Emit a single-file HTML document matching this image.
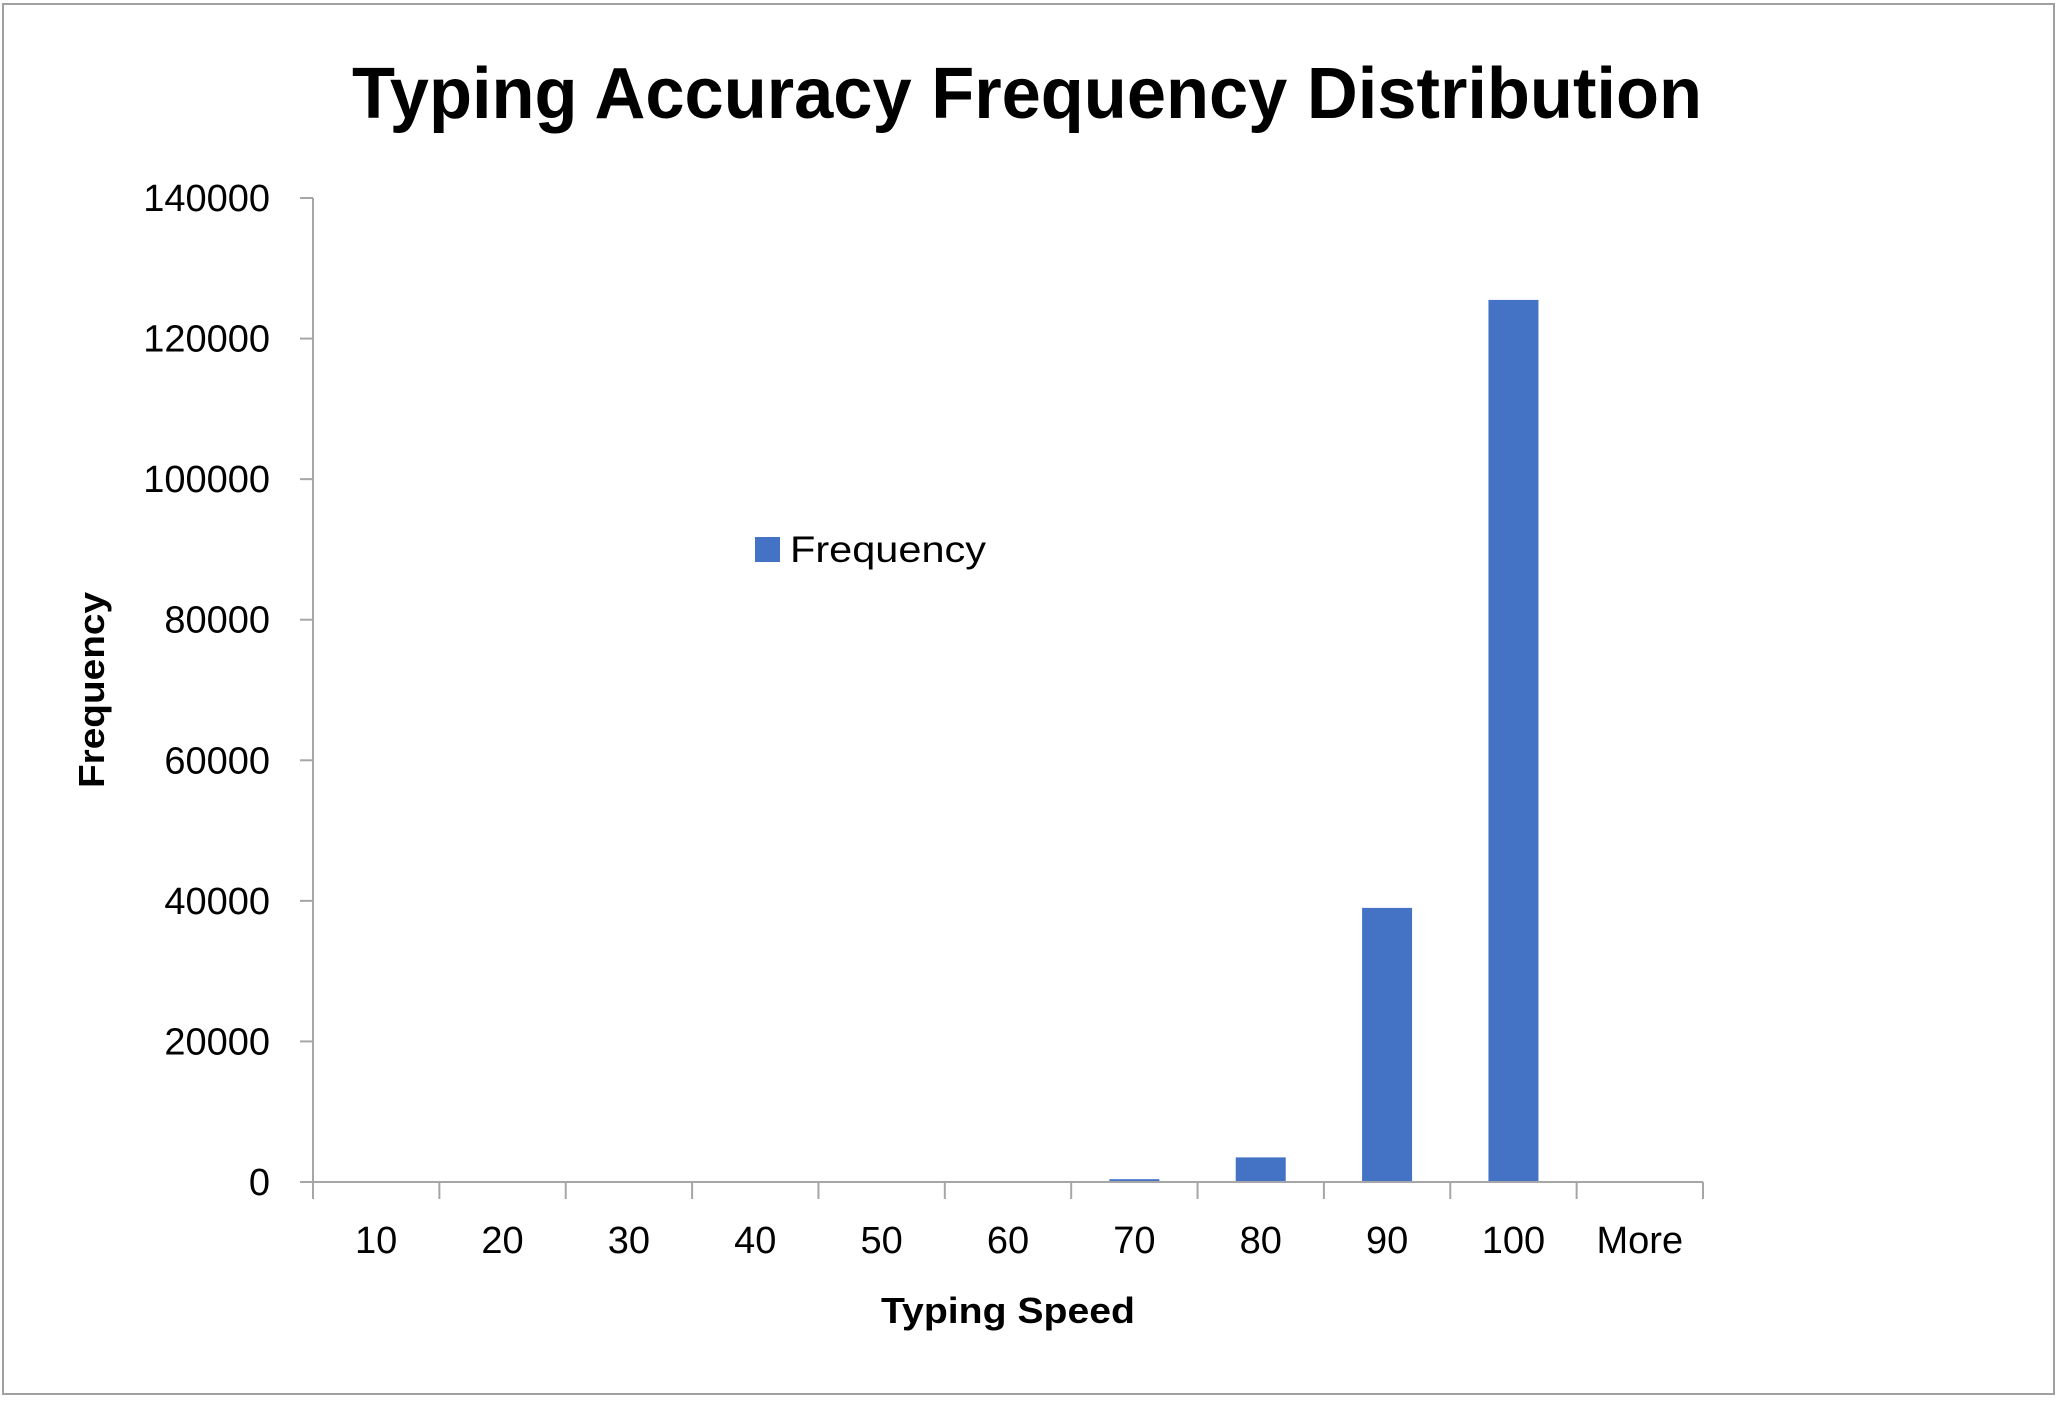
<!DOCTYPE html>
<html><head><meta charset="utf-8"><style>
html,body{margin:0;padding:0;background:#fff;}
svg{display:block;font-family:"Liberation Sans",sans-serif;}
</style></head><body>
<svg id="chart" width="2062" height="1402" viewBox="0 0 2062 1402">
<rect x="3" y="4" width="2051" height="1390" fill="#fff" stroke="#a0a0a0" stroke-width="2"/>
<text x="1027" y="118" text-anchor="middle" font-size="72" font-weight="bold" textLength="1350" lengthAdjust="spacingAndGlyphs">Typing Accuracy Frequency Distribution</text>
<text transform="translate(104,690) rotate(-90)" text-anchor="middle" font-size="36" font-weight="bold" textLength="196" lengthAdjust="spacingAndGlyphs">Frequency</text>
<text x="1008" y="1323" text-anchor="middle" font-size="36" font-weight="bold" textLength="254" lengthAdjust="spacingAndGlyphs">Typing Speed</text>
<g>
<rect x="755" y="537" width="25" height="25" fill="#4472C4"/>
<text x="790" y="562" font-size="37" textLength="196" lengthAdjust="spacingAndGlyphs">Frequency</text>
</g>
<g id="plot"></g>
</svg>
<script>
const categories = ["10","20","30","40","50","60","70","80","90","100","More"];
const frequencies = [60,60,60,60,60,60,400,3500,39000,125500,0];
const yTicks = [0,20000,40000,60000,80000,100000,120000,140000];

const ns = "http://www.w3.org/2000/svg";
const plot = document.getElementById("plot");
const x0 = 313, x1 = 1703, yBase = 1182, yTop = 198, yMax = 140000;
const catW = (x1 - x0) / categories.length;
function yScale(v){ return yBase - (v / yMax) * (yBase - yTop); }
function xScale(i){ return x0 + catW * (i + 0.5); }
function mk(tag, attrs){ const e = document.createElementNS(ns, tag); for (const k in attrs) e.setAttribute(k, attrs[k]); plot.appendChild(e); return e; }

let ya = mk("line",{x1:x0,y1:yTop,x2:x0,y2:yBase,stroke:"#a6a6a6","stroke-width":2});


yTicks.forEach(v => {
  const y = yScale(v);
  const t = mk("line",{x1:x0-13,y1:y,x2:x0,y2:y,stroke:"#a6a6a6","stroke-width":2});
  
  
  const l = mk("text",{x:270,y:y+13,"text-anchor":"end","font-size":38});
  l.textContent = String(v);
  
  
});

frequencies.forEach((v,i) => {
  const bw = 50;
  const y = yScale(v);
  const b = mk("rect",{x:xScale(i)-bw/2,y:y,width:bw,height:Math.max(0,yBase-y),fill:"#4472C4"});
  
  
});

let xa = mk("line",{x1:x0-13,y1:yBase,x2:x1,y2:yBase,stroke:"#a6a6a6","stroke-width":2});


for (let i = 0; i <= categories.length; i++) {
  const x = x0 + catW * i;
  const t = mk("line",{x1:x,y1:yBase,x2:x,y2:yBase+17,stroke:"#a6a6a6","stroke-width":2});
  
  
}
categories.forEach((c,i) => {
  const l = mk("text",{x:xScale(i),y:1253,"text-anchor":"middle","font-size":38});
  l.textContent = c;
  
  
});
</script>
</body></html>
